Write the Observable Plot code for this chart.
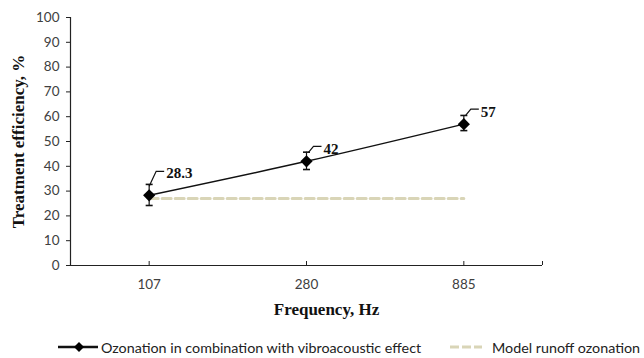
<!DOCTYPE html>
<html>
<head>
<meta charset="utf-8">
<script src="https://cdn.jsdelivr.net/npm/d3@7"></script>
<script src="https://cdn.jsdelivr.net/npm/@observablehq/plot@0.6"></script>
<style>
  html, body { margin: 0; padding: 0; background: #fff; }
  #wrap { position: relative; width: 644px; height: 358px; overflow: hidden; }
  #legend { position: absolute; left: 0; top: 325px; width: 644px; height: 33px;
    font-family: Lato, "Open Sans", sans-serif; font-size: 14.3px; color: #222; }
  .item { position: absolute; top: 14px; height: 16px; display: flex; align-items: center; white-space: nowrap; }
  .item svg { display: block; margin-right: 2px; }
</style>
</head>
<body>
<div id="wrap">
  <div id="chart"></div>
  <div id="legend"></div>
</div>
<script>
// ---- data ----
const frequencies = ["107", "280", "885"];          // Hz, categorical axis
const efficiency  = [28.3, 42, 57];                  // %, ozonation + vibroacoustic
const errLow      = [24.2, 38.7, 54.4];              // error bar lower ends
const errHigh     = [32.7, 45.7, 60.5];              // error bar upper ends
const modelRunoff = [27, 27, 27];                    // %, model runoff ozonation
const pointLabels = ["28.3", "42", "57"];
const yTicks      = [0, 10, 20, 30, 40, 50, 60, 70, 80, 90, 100];
const seriesNames = ["Ozonation in combination with vibroacoustic effect", "Model runoff ozonation"];

const rows = frequencies.map((f, i) => ({
  i, f, v: efficiency[i], lo: errLow[i], hi: errHigh[i], m: modelRunoff[i], label: pointLabels[i]
}));

// custom symbols
const cap = { draw(ctx) { ctx.moveTo(-3.5, 0); ctx.lineTo(3.5, 0); } };
const leaderLong  = { draw(ctx) { ctx.moveTo(0, -9); ctx.lineTo(7, -24); ctx.lineTo(15, -24); } };
const leaderShort = { draw(ctx) { ctx.moveTo(2, -9); ctx.lineTo(7, -15); ctx.lineTo(15, -15); } };

const serif = '"Liberation Serif", "Times New Roman", serif';
const sans = 'Lato, "Open Sans", sans-serif';

const chart = Plot.plot({
  width: 644,
  height: 325,
  marginLeft: 70,
  marginRight: 102,
  marginTop: 17,
  marginBottom: 60,
  style: { fontFamily: sans, fontSize: "13.5px", color: "#404040", background: "#fff", overflow: "visible" },
  x: { type: "linear", domain: [-0.5, frequencies.length - 0.5] },
  y: { domain: [0, 100] },
  marks: [
    // model runoff dashed line
    Plot.line(rows, { x: "i", y: "m", stroke: "#d9d5b7", strokeWidth: 3, strokeDasharray: "9,4" }),
    // error bars
    Plot.ruleX(rows, { x: "i", y1: "lo", y2: "hi", stroke: "#111", strokeWidth: 1.2 }),
    Plot.dot(rows, { x: "i", y: "lo", symbol: cap, r: 3, stroke: "#111", strokeWidth: 1.6, fill: "none" }),
    Plot.dot(rows, { x: "i", y: "hi", symbol: cap, r: 3, stroke: "#111", strokeWidth: 1.6, fill: "none" }),
    // main series
    Plot.line(rows, { x: "i", y: "v", stroke: "#111", strokeWidth: 1.5, curve: "natural" }),
    Plot.dot(rows, { x: "i", y: "v", symbol: "diamond2", r: 5.5, fill: "#000", stroke: "none" }),
    // leaders and labels
    Plot.dot(rows, { filter: d => d.i === 0, x: "i", y: "v", symbol: leaderLong, r: 3, stroke: "#111", strokeWidth: 1.2, fill: "none" }),
    Plot.dot(rows, { filter: d => d.i !== 0, x: "i", y: "v", symbol: leaderShort, r: 3, stroke: "#111", strokeWidth: 1.2, fill: "none" }),
    Plot.text(rows, { filter: d => d.i === 0, x: "i", y: "v", text: "label", dx: 17, dy: -22, textAnchor: "start",
      fontFamily: serif, fontWeight: "bold", fontSize: 15, fill: "#111" }),
    Plot.text(rows, { filter: d => d.i !== 0, x: "i", y: "v", text: "label", dx: 17, dy: -12, textAnchor: "start",
      fontFamily: serif, fontWeight: "bold", fontSize: 15, fill: "#111" }),
    // axes
    Plot.axisY({ ticks: yTicks, tickSize: 4, tickPadding: 7, label: null, stroke: "#222", fill: "#404040" }),
    Plot.axisX({ ticks: frequencies.map((_, i) => i), tickFormat: i => frequencies[i], tickSize: 0, tickPadding: 14, label: null, fill: "#404040" }),
    Plot.axisX({ ticks: [...frequencies.map((_, i) => i), frequencies.length - 0.5], tickFormat: () => "", tickSize: -4, label: null, stroke: "#222" }),
    Plot.ruleX([-0.5], { y1: 0, y2: 100, stroke: "#222", strokeWidth: 1.2 }),
    Plot.ruleY([0], { stroke: "#222", strokeWidth: 1.2 }),
    // axis titles
    Plot.text(["Frequency, Hz"], { frameAnchor: "bottom", dx: 20, dy: 49, fontFamily: serif, fontWeight: "bold", fontSize: 17, fill: "#111" }),
    Plot.text(["Treatment efficiency, %"], { frameAnchor: "left", textAnchor: "middle", dx: -52, rotate: -90, fontFamily: serif, fontWeight: "bold", fontSize: 17, fill: "#111" })
  ]
});
document.getElementById("chart").appendChild(chart);

// legend
const legend = document.getElementById("legend");
const item1 = document.createElement("div");
item1.className = "item";
item1.style.left = "58px";
item1.innerHTML = `<svg width="41" height="12"><line x1="0" y1="6" x2="40" y2="6" stroke="#111" stroke-width="2.5"/><path d="M21,1 L26,6 L21,11 L16,6 Z" fill="#000"/></svg><span>${seriesNames[0]}</span>`;
const item2 = document.createElement("div");
item2.className = "item";
item2.style.left = "450px";
item2.innerHTML = `<svg width="40" height="12"><line x1="0" y1="6" x2="32" y2="6" stroke="#d9d5b7" stroke-width="3" stroke-dasharray="9,3"/></svg><span>${seriesNames[1]}</span>`;
legend.appendChild(item1);
legend.appendChild(item2);
</script>
</body>
</html>
